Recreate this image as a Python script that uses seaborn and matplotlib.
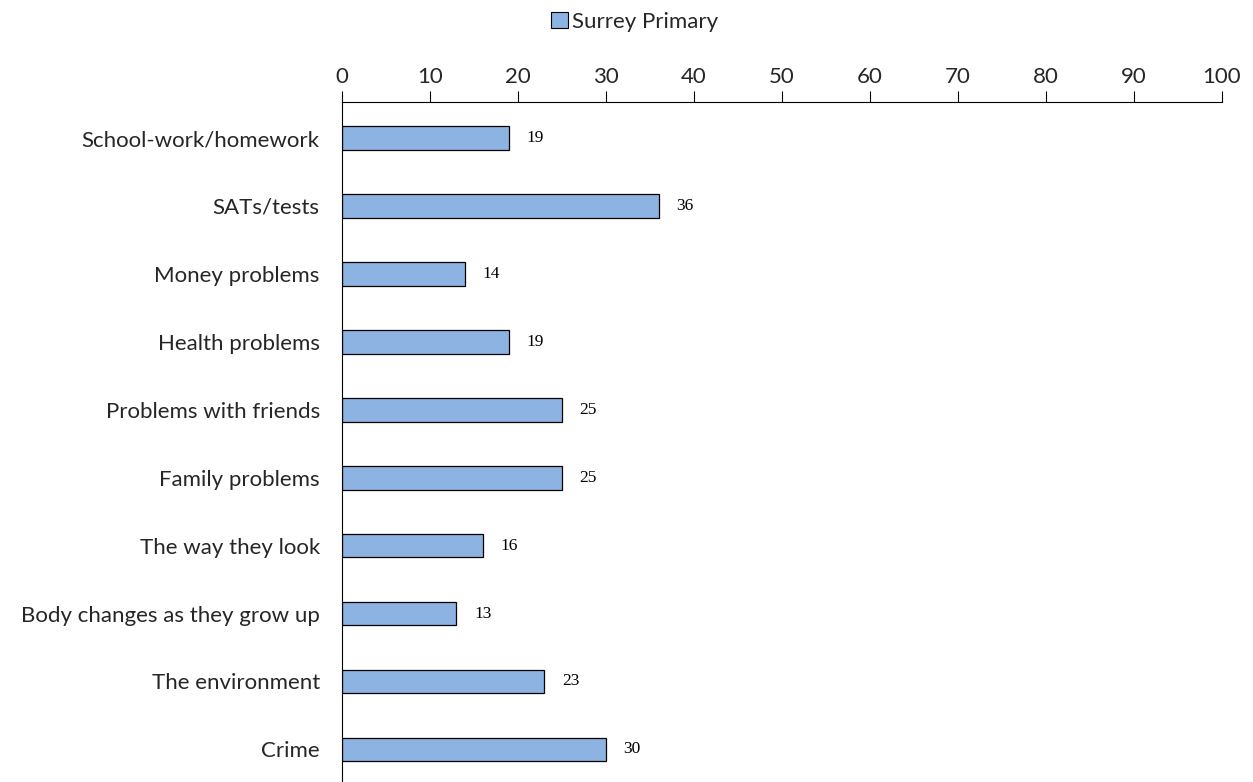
import matplotlib
matplotlib.use("Agg")
import matplotlib.pyplot as plt
import seaborn as sns
import pandas as pd
from matplotlib.patches import Patch

categories = ["School-work/homework", "SATs/tests", "Money problems", "Health problems",
              "Problems with friends", "Family problems", "The way they look",
              "Body changes as they grow up", "The environment", "Crime"]
values = [19, 36, 14, 19, 25, 25, 16, 13, 23, 30]
series_name = "Surrey Primary"
x_ticks = [0, 10, 20, 30, 40, 50, 60, 70, 80, 90, 100]

sns.set_theme(style="white")
plt.rcParams['font.family'] = ['Lato', 'DejaVu Sans']

df = pd.DataFrame({"category": categories, "value": values})

fig = plt.figure(figsize=(12.53, 7.82), dpi=100)
ax = fig.add_axes([342/1253, 0.0, (1222-342)/1253, 1 - 102/782])

bar_color = "#8DB3E2"
sns.barplot(data=df, x="value", y="category", orient="h", color=bar_color,
            width=0.35, edgecolor="black", linewidth=0.9, saturation=1, ax=ax)

for i, v in enumerate(values):
    ax.text(v + 2.0, i, f"{v}", va="center", ha="left", fontsize=12.5,
            color="black", family=["Liberation Serif", "DejaVu Serif"])

ax.set_xlim(0, 100)
ax.set_ylim(9.48, -0.53)
ax.set_xticks(x_ticks)
ax.xaxis.tick_top()
ax.tick_params(axis="x", which="both", top=True, bottom=False, direction="out",
               length=8, width=0.8, color="black", labelsize=16, pad=3)
ax.tick_params(axis="y", left=False, length=0, labelsize=16, pad=16)
ax.set_xlabel("")
ax.set_ylabel("")
for s in ["right", "bottom"]:
    ax.spines[s].set_visible(False)
for s in ["top", "left"]:
    ax.spines[s].set_visible(True)
    ax.spines[s].set_color("black")
    ax.spines[s].set_linewidth(0.8)
ax.grid(False)

handles = [Patch(facecolor=bar_color, edgecolor="black", linewidth=0.8, label=series_name)]
fig.legend(handles=handles, loc="center", bbox_to_anchor=(635/1253, 1 - 22/782),
           frameon=False, fontsize=16, handlelength=0.75, handleheight=0.75,
           handletextpad=0.2, borderpad=0)

fig.savefig("out.png", dpi=100, facecolor="white")
